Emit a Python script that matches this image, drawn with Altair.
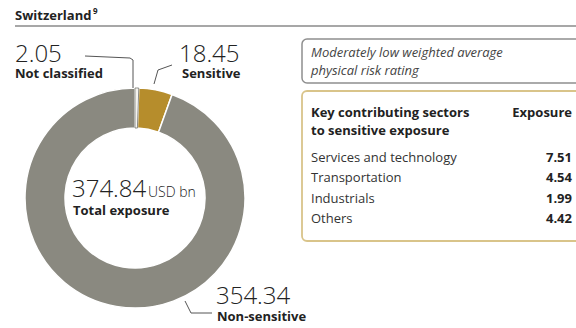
import altair as alt
import pandas as pd

# ---- data ----
categories = ["Not classified", "Sensitive", "Non-sensitive"]
values = [2.05, 18.45, 354.34]
value_labels = ["2.05", "18.45", "354.34"]
total_label = "374.84"
total_unit = "USD bn"
total_caption = "Total exposure"
title_text = "Switzerland"
title_sup = "9"
risk_lines = ["Moderately low weighted average", "physical risk rating"]
table_header = ["Key contributing sectors", "to sensitive exposure"]
table_value_header = "Exposure"
sectors = ["Services and technology", "Transportation", "Industrials", "Others"]
exposures = [7.51, 4.54, 1.99, 4.42]

FONT = "Open Sans"
GRAY = "#8a8980"
GOLD = "#b68d2c"
DARK = "#222222"

donut_df = pd.DataFrame({"category": categories, "value": values, "order": [0, 1, 2]})

donut = alt.Chart(donut_df).mark_arc(
    innerRadius=70, outerRadius=110, stroke="white", strokeWidth=1.5
).encode(
    theta=alt.Theta("value:Q", stack=True),
    order=alt.Order("order:Q"),
    color=alt.Color("category:N", legend=None,
                    scale=alt.Scale(domain=categories, range=["#f4f3ef", GOLD, GRAY])),
    x=alt.value(135), y=alt.value(198),
)
sliver = alt.Chart(donut_df.iloc[[0]]).mark_arc(
    innerRadius=70, outerRadius=110, stroke="#6f6e66", strokeWidth=0.8, fillOpacity=0
).encode(
    theta=alt.Theta("value:Q", scale=alt.Scale(domain=[0, sum(values)], range=[0, 6.2832])),
    x=alt.value(135), y=alt.value(198),
)


def txt(s, x, y, size=13, weight="normal", align="left", style="normal", color=DARK, font=FONT):
    return alt.Chart(pd.DataFrame({"t": [s]})).mark_text(
        align=align, baseline="alphabetic", fontSize=size, fontWeight=weight,
        fontStyle=style, color=color, font=font
    ).encode(x=alt.value(x), y=alt.value(y), text="t:N")


def path(points, color="#555555", width=1):
    df = pd.DataFrame({"px": [p[0] for p in points], "py": [p[1] for p in points], "i": list(range(len(points)))})
    return alt.Chart(df).mark_line(color=color, strokeWidth=width).encode(
        x=alt.X("px:Q", scale=alt.Scale(domain=[0, 576], range=[0, 576]), axis=None),
        y=alt.Y("py:Q", scale=alt.Scale(domain=[0, 328], range=[0, 328]), axis=None),
        order="i:Q",
    )


layers = [donut, sliver]

layers.append(txt(title_text, 15, 20, size=13, weight="bold"))
layers.append(txt(title_sup, 93, 14, size=8, weight="bold"))
layers.append(alt.Chart(pd.DataFrame({"a": [0]})).mark_rule(color="#8a8a8a", strokeWidth=1.5).encode(
    x=alt.value(15), x2=alt.value(576), y=alt.value(26)))

layers.append(txt(value_labels[0], 15, 62, size=24, weight=300))
layers.append(txt(categories[0], 15, 78, size=13, weight="bold"))
layers.append(txt(value_labels[1], 179, 62, size=24, weight=300))
layers.append(txt(categories[1], 182, 78, size=13, weight="bold"))
layers.append(txt(value_labels[2], 216, 304, size=24, weight=300))
layers.append(txt(categories[2], 217, 321, size=13, weight="bold"))

layers.append(path([(85, 56), (130, 58), (133, 60), (133, 88)]))
layers.append(path([(154, 84), (158, 70), (172, 65)]))
layers.append(path([(185, 301), (191, 313), (212, 313)]))

layers.append(txt(total_label, 72, 197, size=24, weight=300))
layers.append(txt(total_unit, 148, 197, size=14, weight=300))
layers.append(txt(total_caption, 73, 215, size=13, weight="bold"))

layers.append(alt.Chart(pd.DataFrame({"a": [0]})).mark_rect(
    cornerRadius=5, fillOpacity=0, stroke="#8f8f8f", strokeWidth=1.5
).encode(x=alt.value(302), x2=alt.value(590), y=alt.value(39), y2=alt.value(83)))
layers.append(txt(risk_lines[0], 311, 57, size=13, style="italic", color="#444444"))
layers.append(txt(risk_lines[1], 311, 75, size=13, style="italic", color="#444444"))

layers.append(alt.Chart(pd.DataFrame({"a": [0]})).mark_rect(
    cornerRadius=5, fillOpacity=0, stroke="#d9c48a", strokeWidth=1.8
).encode(x=alt.value(302), x2=alt.value(590), y=alt.value(91), y2=alt.value(241)))
layers.append(txt(table_header[0], 311, 117, size=13, weight="bold"))
layers.append(txt(table_header[1], 311, 135, size=13, weight="bold"))
layers.append(txt(table_value_header, 572, 117, size=13, weight="bold", align="right"))

table_df = pd.DataFrame({
    "sector": sectors,
    "exposure": [f"{v:.2f}" for v in exposures],
    "row": list(range(len(sectors))),
})
row_y = alt.Y("row:Q", scale=alt.Scale(domain=[0, 3], range=[162, 223]), axis=None)
table = alt.layer(
    alt.Chart(table_df).mark_text(
        align="left", baseline="alphabetic", fontSize=13, color="#333333", font=FONT
    ).encode(x=alt.value(311), y=row_y, text="sector:N"),
    alt.Chart(table_df).mark_text(
        align="right", baseline="alphabetic", fontSize=13, fontWeight="bold", color=DARK, font=FONT
    ).encode(x=alt.value(572), y=row_y, text="exposure:N"),
)

chart = alt.layer(alt.layer(*layers), table).resolve_scale(y="independent", x="independent").properties(
    width=576, height=328, autosize=alt.AutoSizeParams(type="none"), padding=0,
    background="white",
).configure_view(stroke=None)

chart.save("out.html", embed_options={"renderer": "svg", "actions": False})
